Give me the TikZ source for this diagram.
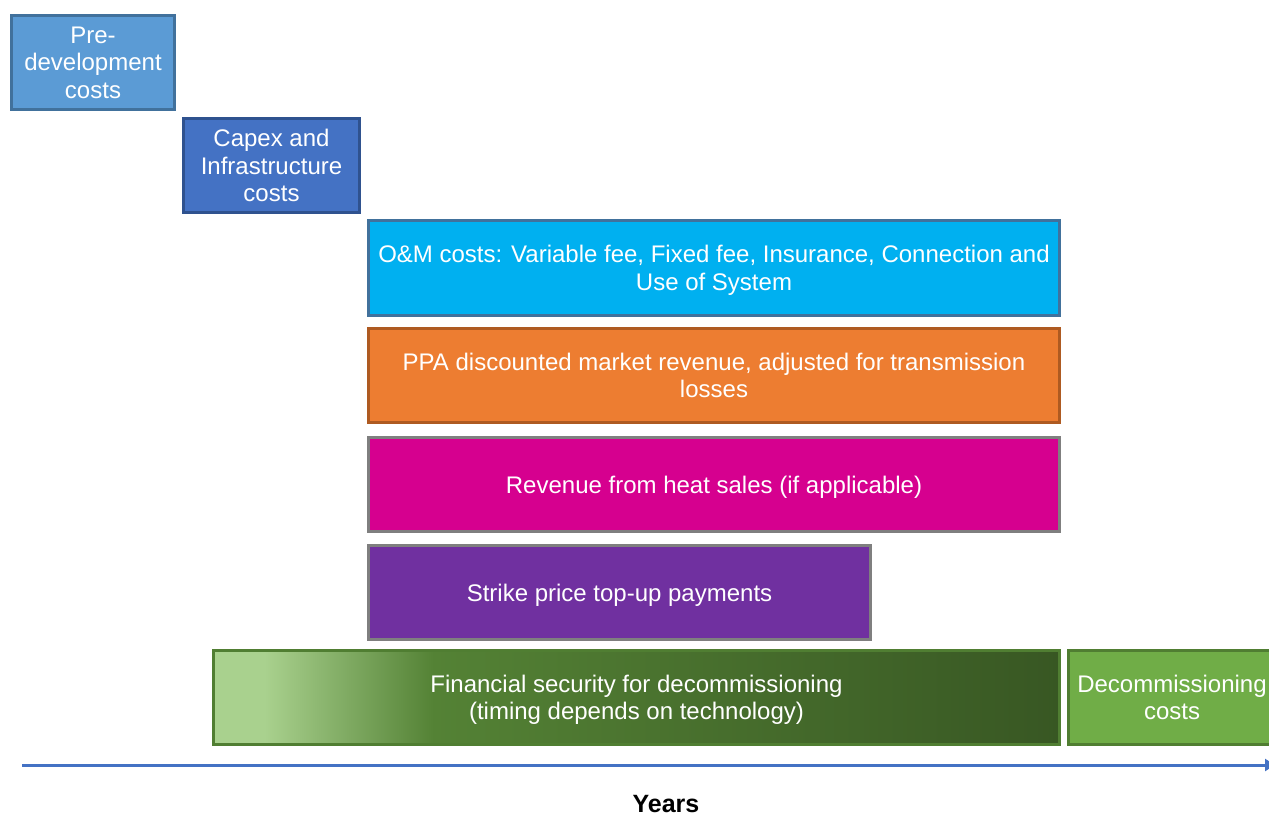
\documentclass[tikz,border=0pt]{standalone}
\usepackage{fontspec}
\setmainfont{Liberation Sans}
\usetikzlibrary{arrows.meta}

\definecolor{pre-blue}{RGB}{91, 155, 213}
\definecolor{pre-edge}{RGB}{65, 113, 156}
\definecolor{capex-blue}{RGB}{68, 114, 196}
\definecolor{capex-edge}{RGB}{47, 82, 143}
\definecolor{om-cyan}{RGB}{0, 176, 240}
\definecolor{ppa-orange}{RGB}{237, 125, 49}
\definecolor{ppa-edge}{RGB}{174, 90, 33}
\definecolor{heat-pink}{RGB}{214, 0, 143}
\definecolor{strike-purple}{RGB}{112, 48, 160}
\definecolor{box-grey}{RGB}{127, 127, 127}
\definecolor{fin-light}{RGB}{169, 209, 142}
\definecolor{fin-mid}{RGB}{84, 130, 53}
\definecolor{fin-dark}{RGB}{56, 87, 35}
\definecolor{decom-green}{RGB}{112, 173, 71}
\definecolor{green-edge}{RGB}{80, 126, 50}
\definecolor{axis-blue}{RGB}{68, 114, 196}

\pgfdeclarehorizontalshading{finshade}{100bp}{color(0bp)=(fin-light); color(28bp)=(fin-light); color(38bp)=(fin-mid); color(75bp)=(fin-dark); color(100bp)=(fin-dark)}

\begin{document}
\begin{tikzpicture}[
        x=1pt, y=-1pt,
        every node/.style={shape=rectangle, align=center, inner sep=0pt, outer sep=0pt,
            text=white, font=\fontsize{24}{27.5}\selectfont},
        stage/.style={draw, line width=3pt, minimum height=94pt, text depth=0pt},
    ]
        \useasboundingbox (0,0) rectangle (1269,817);
        \node[stage, fill=pre-blue, draw=pre-edge, minimum width=163pt] (pre) at (93,62.5) {Pre-\\development\\costs};
        \node[stage, fill=capex-blue, draw=capex-edge, minimum width=176pt] (capex) at (271.5,165.5) {Capex and\\Infrastructure\\costs};
        \node[stage, fill=om-cyan, draw=pre-edge, minimum width=691pt, minimum height=95pt] (om) at (714,268) {O\&M costs: Variable fee, Fixed fee, Insurance, Connection and\\Use of System};
        \node[stage, fill=ppa-orange, draw=ppa-edge, minimum width=691pt] (ppa) at (714,375.5) {PPA discounted market revenue, adjusted for transmission\\losses};
        \node[stage, fill=heat-pink, draw=box-grey, minimum width=691pt] (heat) at (714,484.5) {Revenue from heat sales (if applicable)};
        \node[stage, fill=strike-purple, draw=box-grey, minimum width=502pt] (strike) at (619.5,592.5) {Strike price top-up payments};
        \node[stage, shading=finshade, draw=green-edge, minimum width=846pt] (fin) at (636.5,697.5) {Financial security for decommissioning\\(timing depends on technology)};
        \node[stage, fill=decom-green, draw=green-edge, minimum width=207pt] (decom) at (1172,697.5) {Decommissioning\\costs};

        % time axis
        \coordinate (start) at (22,765);
        \coordinate (end) at (1275,765);
        \draw[axis-blue, line width=3pt, -{Triangle[length=10pt, width=12pt]}] (start) -- (end);
        \node[text=black, font=\fontsize{25}{30}\selectfont\bfseries] (years) at (666,804) {Years};
    \end{tikzpicture}
\end{document}
